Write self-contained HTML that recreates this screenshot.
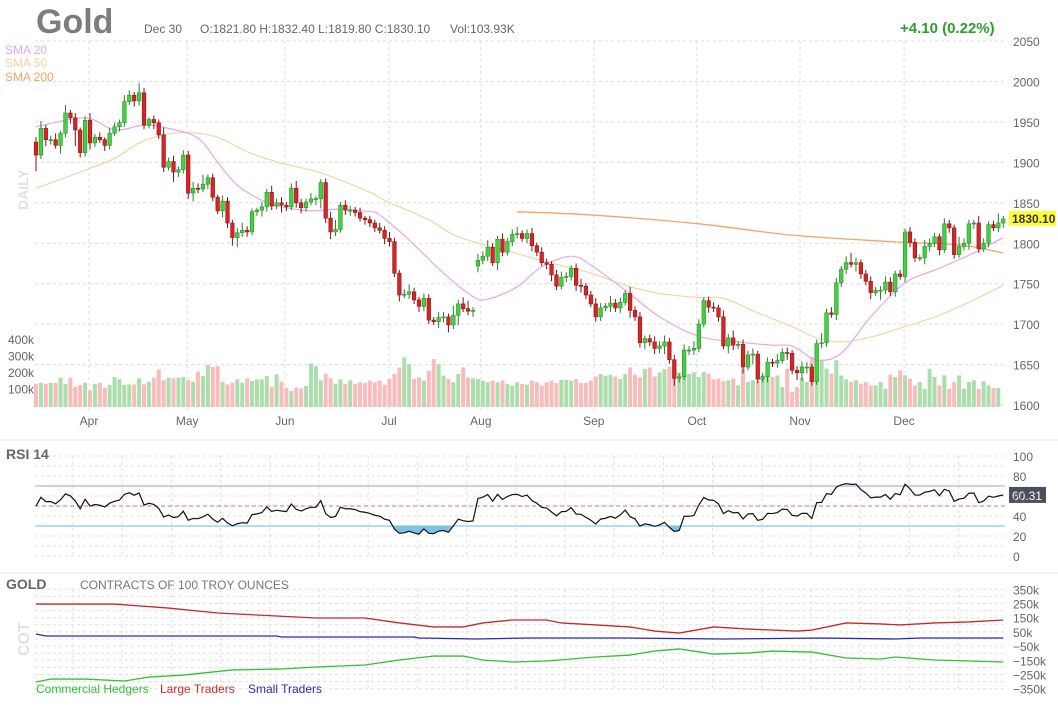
<!DOCTYPE html>
<html><head><meta charset="utf-8">
<style>
html,body{margin:0;padding:0;background:#fff;}
body{width:1058px;height:704px;overflow:hidden;font-family:"Liberation Sans",sans-serif;}
svg text{font-family:"Liberation Sans",sans-serif;}
</style></head>
<body>
<svg id="chart" width="1058" height="704" viewBox="0 0 1058 704" xmlns="http://www.w3.org/2000/svg">
  <g id="grid"></g>
  <text x="36" y="33" font-size="34" font-weight="bold" fill="#7d7d7d">Gold</text>
  <text x="144" y="33" font-size="12" fill="#666">Dec 30</text>
  <text x="200" y="33" font-size="12" fill="#666">O:1821.80  H:1832.40  L:1819.80  C:1830.10</text>
  <text x="450" y="33" font-size="12" fill="#666">Vol:103.93K</text>
  <text x="900" y="33" font-size="15" font-weight="bold" fill="#2e9e2e">+4.10 (0.22%)</text>
  <text x="5" y="54" font-size="12" fill="#e9a6e2">SMA 20</text>
  <text x="5" y="67" font-size="12" fill="#eed69a">SMA 50</text>
  <text x="5" y="81" font-size="12" fill="#f2a266">SMA 200</text>
  <text transform="translate(28,210) rotate(-90)" font-size="14" font-weight="bold" fill="#e2e2e2">DAILY</text>
  <text transform="translate(29,656) rotate(-90)" font-size="16" font-weight="bold" fill="#e2e2e2">COT</text>
  <line x1="0" y1="440" x2="1058" y2="440" stroke="#e8e8e8"/>
  <line x1="0" y1="573" x2="1058" y2="573" stroke="#e8e8e8"/>
  <text x="6" y="459" font-size="14" font-weight="bold" fill="#666">RSI 14</text>
  <text x="6" y="589" font-size="14" font-weight="bold" fill="#666">GOLD</text>
  <text x="80" y="589" font-size="12" fill="#777">CONTRACTS OF 100 TROY OUNCES</text>
  <text x="36" y="693" font-size="12" fill="#2fbf2f">Commercial Hedgers</text>
  <text x="160" y="693" font-size="12" fill="#cc2a2a">Large Traders</text>
  <text x="248" y="693" font-size="12" fill="#2a2aaa">Small Traders</text>
  <g id="vol"></g>
  <g id="sma"></g>
  <g id="candles"></g>
  <g id="rsi"></g>
  <g id="cot"></g>
  <g id="axes"></g>
</svg>
<script>
const closes = [1909,1942,1928,1928,1921,1936,1961,1955,1940,1912,1952,1924,1931,1928,1921,1936,1944,1949,1975,1983,1976,1986,1946,1953,1949,1934,1894,1901,1888,1891,1909,1862,1868,1867,1873,1881,1857,1840,1852,1825,1807,1813,1816,1814,1839,1841,1845,1863,1846,1850,1847,1845,1868,1850,1844,1851,1855,1855,1875,1831,1814,1817,1847,1841,1841,1838,1831,1829,1825,
1819,1816,1806,1802,1763,1736,1737,1740,1730,1722,1732,1705,1703,1708,1709,1699,1711,1725,1719,1716,1717,
1779,1784,1795,1776,1805,1789,1802,1811,1812,1806,1812,1797,1789,1776,1774,1761,1747,1758,1759,1769,1748,1747,1736,1725,1709,1720,1722,1726,1720,1727,1738,1717,1709,1677,1682,1678,1670,1673,1678,1656,1633,1635,1668,1668,1670,1700,
1729,1721,1720,1709,1673,1683,1674,1675,1647,1662,1663,1632,1635,1653,1652,1655,1665,1664,1643,1640,1647,1647,1629,1676,1677,1714,1712,1751,1768,1776,1774,1776,1762,1753,1739,1742,1742,1752,1740,1762,1759,1814,1801,1782,1782,1796,1800,1808,1792,1824,1819,1786,1796,1800,1824,1825,1793,1800,1823,1819,1825,1830];
const firstOpen = 1925;
const rollIndex = 90;
const rollOpen = 1772;
const wickHi = [6,9,4,5,8,3,10,4,6,3,5,9,4,6,3,7,5,4,8,6,4,12,6,3,5,4,9,5,7,4,6,5,8,6,12,4,5,3,7,5,4,6,9,5,4,3,6,4,8,5,7,4,6,9,5,4,7,3,4,5,8,12,4,6,5,4,6,3,5,
4,6,5,8,5,4,6,9,5,4,6,5,4,7,6,4,12,5,8,10,4,8,6,9,5,4,7,5,6,8,4,5,7,4,6,5,4,6,7,5,4,6,8,4,5,7,6,4,9,5,6,4,8,5,6,4,5,7,6,8,5,6,4,7,5,9,6,
4,5,6,4,8,5,9,4,6,5,7,4,5,6,4,8,5,6,4,5,7,6,4,5,12,5,7,6,4,8,12,6,4,5,6,4,5,7,6,4,5,4,6,5,4,8,6,5,4,7,5,4,12,6,5,4,9,6,4,5,12,4,6,5,4,5,
6,4,5,12,4,3,5,6,4,3];
const wickLo = [20,5,8,6,4,10,5,7,20,6,5,8,5,4,7,5,3,6,5,4,7,6,5,4,8,5,6,4,12,6,5,7,10,5,4,6,5,4,8,6,10,12,5,6,4,5,8,6,5,4,9,5,4,6,7,5,4,8,12,6,9,5,4,6,7,5,4,6,5,
5,4,7,6,5,8,4,6,5,7,6,5,4,8,6,9,5,12,4,5,7,8,5,6,4,9,5,4,6,5,4,6,7,5,4,6,8,5,4,6,5,7,8,5,4,6,5,4,7,5,6,4,9,5,6,8,5,7,6,10,5,9,5,4,6,
6,5,4,7,5,6,4,9,6,5,8,4,12,5,4,7,5,6,4,8,5,9,10,8,5,4,6,5,4,7,5,6,4,9,6,5,8,4,12,5,5,6,4,7,6,5,4,8,6,5,7,4,6,5,4,5,8,6,5,4,5,4,
5,6,4,8,5,4,6,5,4,3];
const volumes = [141,147,141,147,147,178,141,178,121,133,147,101,141,147,117,133,182,168,133,137,137,174,137,153,178,228,162,178,174,178,182,162,153,214,188,255,242,248,153,137,147,168,147,174,157,168,168,188,121,198,153,117,97,117,113,127,263,248,162,202,174,141,168,141,162,141,150,145,160,
150,160,135,170,200,240,300,260,170,180,160,220,290,260,190,170,150,200,240,180,175,
170,160,150,160,150,160,140,130,150,140,135,160,150,130,150,160,145,165,165,160,170,145,145,160,185,200,190,195,185,170,200,240,195,180,230,240,185,210,230,245,250,210,200,200,210,
182,212,202,168,172,156,162,172,131,232,152,162,156,192,182,182,192,121,232,91,121,176,152,303,242,283,232,202,283,192,168,152,162,141,152,131,131,152,111,196,182,222,192,172,131,152,111,232,182,131,192,111,152,192,111,152,162,111,156,131,115,115];
const sma20Idx = [0,10,16,22,27,33,37,41,46,50,56,61,68,70,76,83,89,92,98,103,109,113,120,127,135,143,150,154,159,164,170,177,184,191,197];
const sma20Val = [1944,1955,1940,1946,1942,1930,1900,1872,1853,1845,1840,1842,1839,1835,1804,1763,1734,1731,1746,1771,1784,1773,1742,1709,1685,1678,1674,1673,1656,1664,1709,1751,1769,1788,1807];
const sma50Idx = [0,9,16,21,26,31,37,43,50,58,68,71,80,86,97,104,113,120,127,135,140,147,154,159,164,170,177,184,191,197];
const sma50Val = [1868,1888,1905,1924,1934,1937,1931,1913,1899,1887,1863,1853,1829,1808,1789,1777,1763,1748,1738,1733,1732,1714,1697,1683,1678,1684,1697,1711,1730,1748];
const sma200Idx = [98,113,135,154,174,188,197];
const sma200Val = [1839,1835,1824,1810,1802,1798,1788];
const cotLargeIdx = [0,16,27,37,49,57,67,74,81,87,91,97,104,107,114,121,126,131,138,145,155,158,165,172,176,183,190,197];
const cotLargeVal = [246,246,218,183,162,148,148,113,85,85,113,134,134,113,99,85,56,42,85,70,56,63,113,106,99,113,120,134];
const cotSmallIdx = [0,2,49,50,77,78,90,100,120,140,160,175,180,197];
const cotSmallVal = [35,21,21,14,14,7,0,7,7,0,7,0,7,7];
const cotCommIdx = [0,3,10,18,23,30,40,50,57,67,74,81,87,91,97,104,114,121,126,131,138,145,150,158,165,172,175,183,190,197];
const cotCommVal = [-303,-282,-282,-296,-268,-254,-218,-211,-197,-183,-148,-120,-120,-148,-162,-155,-127,-113,-85,-70,-106,-99,-85,-92,-134,-141,-127,-148,-155,-162];
const priceTicks = [1600,1650,1700,1750,1800,1850,1900,1950,2000,2050];
const volTicks = [100,200,300,400];
const volTickLabels = ["100k","200k","300k","400k"];
const months = ["Apr","May","Jun","Jul","Aug","Sep","Oct","Nov","Dec"];
const monthIdx = [10.8,30.8,50.7,71.9,90.6,113.6,134.6,155.6,176.8];
const rsiTicks = [0,20,40,60,80,100];
const cotTicks = [350,250,150,50,-50,-150,-250,-350];
const cotTickLabels = ["350k","250k","150k","50k","\u221250k","\u2212150k","\u2212250k","\u2212350k"];
const lastPrice = 1830.10;

const NS = "http://www.w3.org/2000/svg";
function mk(tag, attrs, parent){const e=document.createElementNS(NS,tag);for(const k in attrs)e.setAttribute(k,attrs[k]);parent.appendChild(e);return e;}
const X0=36, DX=4.91;
const xS = i => X0 + i*DX;
const yP = p => 41 + (2050-p)*0.809;
const yV = v => 407 - v*0.165;
const yR = r => 556 - r*1.0;
const yC = k => 639 - k*0.142;
const grid=document.getElementById('grid'), axes=document.getElementById('axes');

priceTicks.forEach(p=>{
  const l=mk('line',{x1:35,x2:1005,y1:yP(p),y2:yP(p),stroke:'#dcdcdc','stroke-dasharray':'3,3'},grid);
  
  
  const t=mk('text',{x:1013,y:yP(p)+5,'font-size':12,fill:'#666'},axes);
  t.textContent=p;
  
  
});
months.forEach((m,k)=>{
  const x=xS(monthIdx[k]);
  const l=mk('line',{x1:x,x2:x,y1:41,y2:410,stroke:'#dcdcdc','stroke-dasharray':'3,3'},grid);
  
  
  const t=mk('text',{x:x,y:425,'font-size':12,fill:'#666','text-anchor':'middle'},axes);
  t.textContent=m;
  
  
});
volTicks.forEach((v,k)=>{
  const t=mk('text',{x:8,y:yV(v)+3,'font-size':12,fill:'#666'},axes);
  t.textContent=volTickLabels[k];
  
  
});
for(let r=0;r<=100;r+=10){
  const l=mk('line',{x1:35,x2:1005,y1:yR(r),y2:yR(r),stroke:'#e0e0e0','stroke-dasharray':'3,3'},grid);
  
  
}
for(let k=-350;k<=350;k+=50){
  const l=mk('line',{x1:35,x2:1005,y1:yC(k),y2:yC(k),stroke:'#e0e0e0','stroke-dasharray':'3,3'},grid);
  
  
}
for(let k=0;k<19;k++){
  const x=73+49.2*k;
  const l1=mk('line',{x1:x,x2:x,y1:456,y2:558,stroke:'#e0e0e0','stroke-dasharray':'3,3'},grid);
  
  
  const l2=mk('line',{x1:x,x2:x,y1:589,y2:690,stroke:'#e0e0e0','stroke-dasharray':'3,3'},grid);
  
  
}
rsiTicks.forEach(r=>{
  const t=mk('text',{x:1013,y:yR(r)+5,'font-size':12,fill:'#666'},axes);
  t.textContent=r;
  
  
});
cotTicks.forEach((c,k)=>{
  const t=mk('text',{x:1013,y:yC(c)+5,'font-size':12,fill:'#666'},axes);
  t.textContent=cotTickLabels[k];
  
  
});

const volG=document.getElementById('vol'), cG=document.getElementById('candles');
closes.forEach((c,i)=>{
  const o = i===0?firstOpen:(i===rollIndex?rollOpen:closes[i-1]);
  const up = c>=o;
  const x=xS(i);
  const v=mk('rect',{x:x-2,y:yV(volumes[i]),width:4,height:407-yV(volumes[i]),fill:up?'#acdeac':'#f9bcbc'},volG);
  
  
  const hi=Math.max(o,c)+wickHi[i], lo=Math.min(o,c)-wickLo[i];
  const w=mk('line',{x1:x,x2:x,y1:yP(hi),y2:yP(lo),stroke:up?'#2f7d2f':'#7a1515','stroke-width':1},cG);
  
  
  const top=yP(Math.max(o,c)), h=Math.max(1,yP(Math.min(o,c))-top);
  const b=mk('rect',{x:x-1.8,y:top,width:3.6,height:h,fill:up?'#3fd43f':'#d82424',stroke:up?'#2f8a2f':'#8a1a1a','stroke-width':0.6},cG);
  
  
});

const smaG=document.getElementById('sma');
function smooth(pts){let d='M'+pts[0][0]+','+pts[0][1];for(let i=0;i<pts.length-1;i++){const p0=pts[i-1]||pts[i],p1=pts[i],p2=pts[i+1],p3=pts[i+2]||p2;const c1x=p1[0]+(p2[0]-p0[0])/6,c1y=p1[1]+(p2[1]-p0[1])/6,c2x=p2[0]-(p3[0]-p1[0])/6,c2y=p2[1]-(p3[1]-p1[1])/6;d+=' C'+c1x+','+c1y+' '+c2x+','+c2y+' '+p2[0]+','+p2[1];}return d;}
const s200=mk('path',{d:smooth(sma200Idx.map((k,j)=>[xS(k),yP(sma200Val[j])])),fill:'none',stroke:'#f3a468','stroke-width':1.3},smaG);


const s50=mk('path',{d:smooth(sma50Idx.map((k,j)=>[xS(k),yP(sma50Val[j])])),fill:'none',stroke:'#f0d7a0','stroke-width':1.2},smaG);


const s20=mk('path',{d:smooth(sma20Idx.map((k,j)=>[xS(k),yP(sma20Val[j])])),fill:'none',stroke:'#eaa6e4','stroke-width':1.2},smaG);



const tagR=mk('rect',{x:1009,y:yP(lastPrice)-8,width:47,height:15,fill:'#ffff33'},axes);


const tagT=mk('text',{x:1012,y:yP(lastPrice)+4,'font-size':12,'font-weight':'bold',fill:'#333'},axes);
tagT.textContent=lastPrice.toFixed(2);



const rsiG=document.getElementById('rsi');
const rsi=[50];let ag=6,al=6;
for(let i=1;i<closes.length;i++){const ch=closes[i]-closes[i-1];ag=(ag*13+Math.max(ch,0))/14;al=(al*13+Math.max(-ch,0))/14;rsi.push(100-100/(1+ag/al));}
[[70,'#c9a3e3',null,'rsi-overbought-line'],[50,'#ec8a8a','4,3','rsi-midline'],[30,'#82cbe8',null,'rsi-oversold-line']].forEach(a=>{
  const l=mk('line',{x1:35,x2:1005,y1:yR(a[0]),y2:yR(a[0]),stroke:a[1],'stroke-width':1.2},rsiG);
  if(a[2])l.setAttribute('stroke-dasharray',a[2]);
  
  
});
const cp=mk('clipPath',{id:'below30'},rsiG);mk('rect',{x:0,y:yR(30),width:1058,height:60},cp);
const rpts=rsi.map((r,i)=>xS(i)+','+yR(r)).join(' ');
const fill=mk('polygon',{points:xS(0)+','+yR(30)+' '+rpts+' '+xS(rsi.length-1)+','+yR(30),fill:'#7cc4e6','clip-path':'url(#below30)'},rsiG);


const rl=mk('polyline',{points:rpts,fill:'none',stroke:'#111','stroke-width':1.2},rsiG);


const lr=rsi[rsi.length-1];
const rb=mk('rect',{x:1009,y:yR(lr)-8,width:37,height:16,fill:'#4b505c'},rsiG);


const rt=mk('text',{x:1012,y:yR(lr)+5,'font-size':12,fill:'#fff'},rsiG);
rt.textContent='60.31';



const cotG=document.getElementById('cot');
[[cotLargeIdx,cotLargeVal,'#c42a2a','cot-large-traders-line'],[cotSmallIdx,cotSmallVal,'#2a2aa8','cot-small-traders-line'],[cotCommIdx,cotCommVal,'#33c033','cot-commercial-hedgers-line']].forEach(s=>{
  const p=mk('polyline',{points:s[0].map((k,j)=>xS(k)+','+yC(s[1][j])).join(' '),fill:'none',stroke:s[2],'stroke-width':1.3},cotG);
  
  
});
</script>
</body></html>
